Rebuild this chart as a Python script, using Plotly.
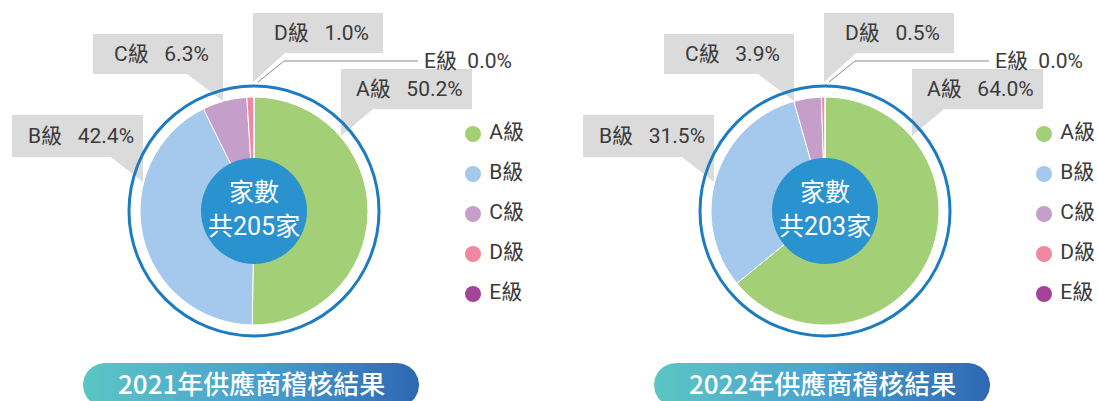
import numpy as np
import plotly.graph_objects as go

W, H = 1098, 401

# ---- data -------------------------------------------------------------
grades = ["A級", "B級", "C級", "D級", "E級"]
share_2021 = [50.2, 42.4, 6.3, 1.0, 0.0]
share_2022 = [64.0, 31.5, 3.9, 0.5, 0.0]
totals = [205, 203]
years = ["2021", "2022"]
grade_colors = ["#a3d077", "#a4c9ec", "#c59fca", "#f088a2", "#a3439a"]

# ---- layout constants (pixels) ---------------------------------------
centers = [(254, 211), (825, 211)]
PIE_R = 114
RING_R = 125
HUB_R = 53
LATIN = "Roboto, Noto Sans CJK TC"
CJK = "Noto Sans CJK TC, Noto Sans"
BOX_FILL = "#dcdbdb"
TXT = "#3a3a3a"

# call-out boxes relative to the pie centre: (x0, y0, x1, y1), pointer side, pointer base, tip
callouts = {
    0: ((87, -142, 218, -102), "bl", 119, (87, -75)),
    1: ((-242, -96, -111, -54), "br", -143, (-111, -29)),
    2: ((-161, -177, -31, -137), "br", -67, (-31, -110)),
    3: ((-1, -198, 129, -158), "bl", 31, (-1, -129)),
}

fig = go.Figure()
shapes, annotations = [], []


def callout_path(cx, cy, box, side, base, tip):
    x0, y0, x1, y1 = box
    tl = (cx + x0, cy + y0)
    tr = (cx + x1, cy + y0)
    br = (cx + x1, cy + y1)
    bl = (cx + x0, cy + y1)
    tp = (cx + tip[0], cy + tip[1])
    bp = (cx + base, cy + y1)
    if side == "bl":
        pts = [tl, tr, br, bp, tp]
    else:
        pts = [tl, tr, tp, bp, bl]
    return "M " + " L ".join(f"{x},{y}" for x, y in pts) + " Z"


def pill(x0, x1, top, h):
    r = h / 2
    t = np.linspace(-np.pi / 2, np.pi / 2, 40)
    xr = x1 - r + r * np.cos(t)
    yr = top + r + r * np.sin(t)
    t2 = np.linspace(np.pi / 2, 3 * np.pi / 2, 40)
    xl = x0 + r + r * np.cos(t2)
    yl = top + r + r * np.sin(t2)
    xs = np.concatenate([xr, xl, xr[:1]])
    ys = np.concatenate([yr, yl, yr[:1]])
    return xs, ys


for k, (cx, cy) in enumerate(centers):
    values = share_2021 if k == 0 else share_2022

    # donut-style pie
    fig.add_trace(go.Pie(
        labels=grades, values=values, sort=False, direction="clockwise",
        rotation=0, textinfo="none", hoverinfo="skip", showlegend=False,
        marker=dict(colors=grade_colors, line=dict(color="white", width=1)),
        domain=dict(x=[(cx - PIE_R) / W, (cx + PIE_R) / W],
                    y=[(H - cy - PIE_R) / H, (H - cy + PIE_R) / H]),
    ))

    # call-out boxes and labels
    for i, (box, side, base, tip) in callouts.items():
        shapes.append(dict(type="path", path=callout_path(cx, cy, box, side, base, tip),
                           xref="x", yref="y", fillcolor=BOX_FILL, line_width=0,
                           layer="above"))
        x0, y0, x1, y1 = box
        annotations.append(dict(
            x=cx + (x0 + x1) / 2 + 3, y=cy + (y0 + y1) / 2, xref="x", yref="y",
            text=f"{grades[i]}\u00a0\u00a0\u00a0{values[i]:.1f}%", showarrow=False,
            font=dict(family=LATIN, size=21, color=TXT),
            xanchor="center", yanchor="middle"))

    # leader line for the zero-share grade
    shapes.append(dict(type="path", xref="x", yref="y", layer="above",
                       path=f"M {cx + 4},{cy - 129} L {cx + 30},{cy - 150} L {cx + 164},{cy - 150}",
                       line=dict(color="#8a8a8a", width=1)))
    annotations.append(dict(
        x=cx + 168, y=cy - 150, xref="x", yref="y",
        text=f"{grades[4]}\u00a0\u00a0{values[4]:.1f}%", showarrow=False,
        font=dict(family=LATIN, size=21, color=TXT),
        xanchor="left", yanchor="middle"))

    # outer ring and centre hub
    shapes.append(dict(type="circle", xref="x", yref="y", layer="above",
                       x0=cx - RING_R, x1=cx + RING_R, y0=cy - RING_R, y1=cy + RING_R,
                       line=dict(color="#1d7cc1", width=3), fillcolor="rgba(0,0,0,0)"))
    shapes.append(dict(type="circle", xref="x", yref="y", layer="above",
                       x0=cx - HUB_R, x1=cx + HUB_R, y0=cy - HUB_R, y1=cy + HUB_R,
                       line_width=0, fillcolor="#2b92d0"))
    annotations.append(dict(x=cx, y=cy - 19, xref="x", yref="y", text="家數",
                            showarrow=False, font=dict(family=LATIN, size=25, color="white"),
                            xanchor="center", yanchor="middle"))
    annotations.append(dict(x=cx, y=cy + 15, xref="x", yref="y", text=f"共{totals[k]}家",
                            showarrow=False, font=dict(family=LATIN, size=25, color="white"),
                            xanchor="center", yanchor="middle"))

    # legend
    fig.add_trace(go.Scatter(
        x=[cx + 219] * len(grades), y=[134 + 40 * j for j in range(len(grades))],
        mode="markers+text", text=["\u00a0" + g for g in grades], textposition="middle right",
        textfont=dict(family=LATIN, size=21, color=TXT),
        marker=dict(size=16, color=grade_colors), hoverinfo="skip", showlegend=False,
    ))

    # title banner
    px0, px1 = cx - 171, cx + 165
    xs, ys = pill(px0, px1, 363, 44)
    fig.add_trace(go.Scatter(
        x=xs, y=ys, mode="lines", fill="toself", line=dict(width=0),
        fillgradient=dict(type="horizontal",
                          colorscale=[[0, "#5bc6c4"], [0.5, "#4aa2cf"], [1, "#2d68b3"]]),
        hoverinfo="skip", showlegend=False,
    ))
    annotations.append(dict(x=(px0 + px1) / 2, y=382, xref="x", yref="y",
                            text=f"{years[k]}年供應商稽核結果", showarrow=False,
                            font=dict(family=CJK, size=26, color="white", weight=500),
                            xanchor="center", yanchor="middle"))

fig.update_layout(
    width=W, height=H, margin=dict(l=0, r=0, t=0, b=0),
    paper_bgcolor="white", plot_bgcolor="white",
    xaxis=dict(range=[0, W], visible=False, fixedrange=True),
    yaxis=dict(range=[H, 0], visible=False, fixedrange=True),
    shapes=shapes, annotations=annotations, showlegend=False,
)

fig.write_html("out.html", config={"displayModeBar": False})
